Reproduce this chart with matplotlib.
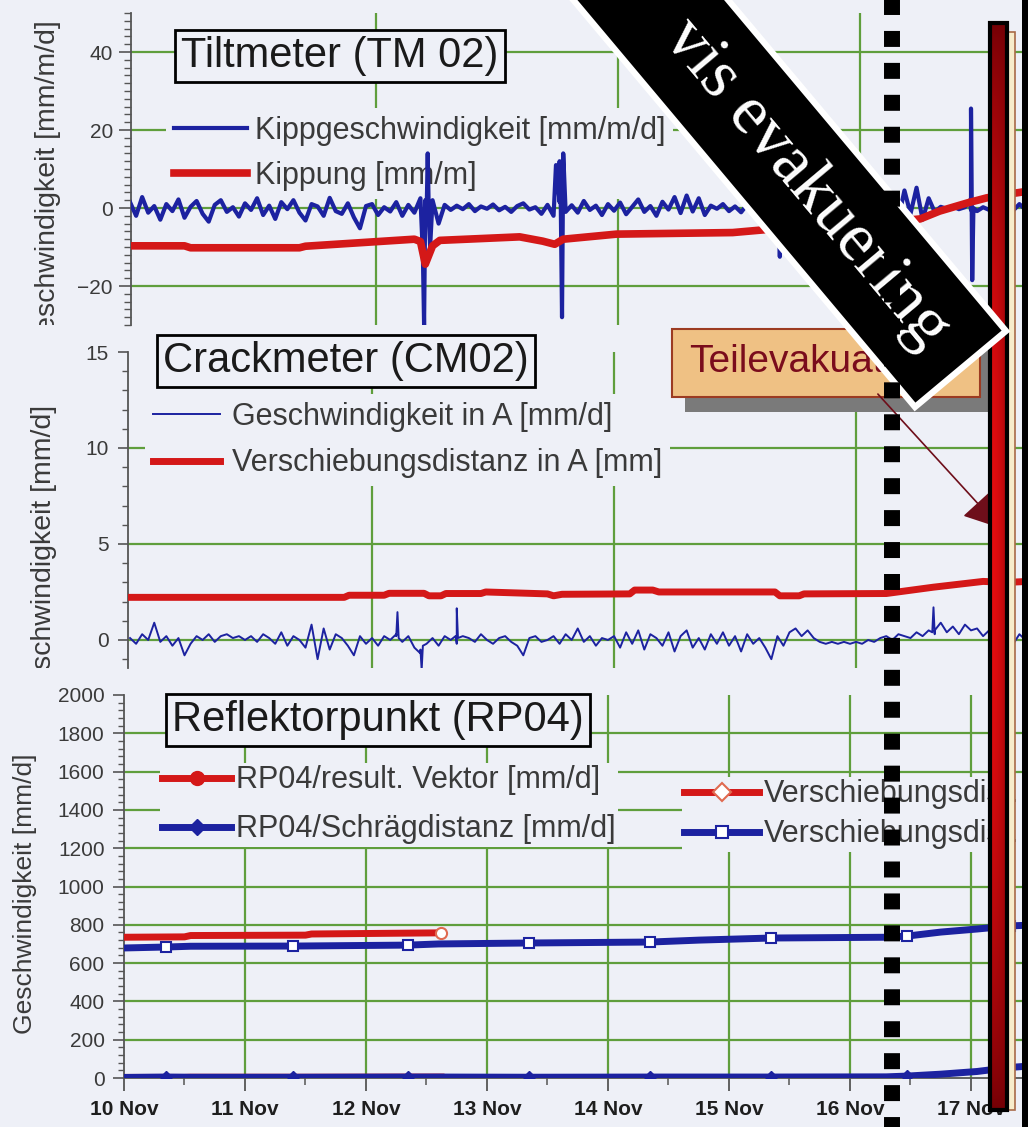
import numpy as np
import matplotlib
matplotlib.use("Agg")
import matplotlib.pyplot as plt
from matplotlib.lines import Line2D
from matplotlib.patches import Rectangle, Polygon, FancyArrowPatch
from matplotlib.ticker import MultipleLocator
from matplotlib.transforms import Bbox, TransformedBbox

plt.rcParams['font.family'] = ['Liberation Sans', 'DejaVu Sans']

# --- data: time in days after 10 Nov ---
# tiltmeter rate [mm/m/d], one value every 0.05 d
tilt_rate = [
    1.5, -2.0, 2.8, -1.2, 0.5, -3.0, 1.0, -0.8, 2.2, -2.5, 0.3, 1.8, -1.5, -3.5, 0.8, 2.0, -1.0, 0.2, -2.2, 1.2,
    -0.5, 2.5, -1.8, 0.6, -2.8, 1.5, -0.3, 2.0, -1.2, -3.2, 1.0, 0.4, -2.0, 2.6, -0.8, -1.5, 1.2, -2.4, -5.2, 0.5,
    1.0, -1.8, 0.2, -0.9, 1.5, -2.0, 0.8, -1.2, 2.5, -3.0, 2.0, -4.0, 0.8, -0.5, 0.6, -0.3, 1.0, -0.8, 0.4, -0.2,
    0.9, -0.6, 0.3, -1.0, 0.5, 1.2, -0.4, 0.2, -1.5, 0.8, -2.0, 1.5, -1.0, 0.7, -1.2, 1.8, -0.5, 0.6, -1.8, 1.0,
    -0.7, 1.4, -1.6, 0.3, 2.2, -1.0, 0.5, -2.0, 1.6, -0.4, 2.8, -1.3, 3.2, -0.9, 2.5, -1.8, 0.6, -0.2, 1.0, -0.8,
    0.4, -1.1, 0.9, -0.3, 1.3, -0.6, 0.2, -1.5, 0.7, -0.4, 1.1, -1.2, 0.5, -0.8, 1.4, -0.5, 0.8, -1.3, 0.6, -0.2,
    1.0, -1.5, 0.8, -0.4, 1.6, -2.2, 3.0, -2.8, 4.5, -1.5, 5.2, -3.0, 2.5, -1.0, 0.3, -0.2, 0.4, -0.3, 0.2, -0.5,
    -0.8, 0.2, -0.5, 0.4, -1.0, 0.3, -0.6, 1.0, -0.4,
]
tilt_spike_t = [2.47, 2.48, 2.49, 2.51, 2.52, 2.53, 3.57, 3.60, 3.61, 3.62, 3.63, 5.41, 5.42, 5.43, 6.99, 7.00, 7.01, 7.02]
tilt_spike = [-12.0, -30.0, 2.0, 14.0, -3.0, -10.0, 11.0, 12.0, 0.0, -28.0, 14.0, 1.0, -12.5, 1.5, 2.0, 25.5, -18.5, 0.0]

# tiltmeter tilt [mm/m]
tilt_t = [0.06, 0.50, 0.55, 1.45, 1.50, 1.95, 2.40, 2.45, 2.49, 2.55, 2.61, 3.27, 3.46, 3.56, 3.63,
          4.07, 5.03, 5.36, 5.83, 6.25, 6.58, 6.74, 6.97, 7.13, 7.36, 7.47]
tilt = [-9.7, -9.7, -10.2, -10.2, -9.8, -8.9, -8.0, -8.6, -14.4, -9.7, -8.3, -7.4, -8.5, -9.3, -8.0,
        -6.7, -6.3, -5.4, -4.6, -3.8, -2.8, -0.8, 1.3, 2.6, 3.8, 4.3]

# crackmeter rate [mm/d], one value every 0.05 d
crack_rate = [
    0.1, -0.2, 0.3, 0.0, 0.9, -0.1, 0.2, -0.3, 0.1, -0.8, -0.2, 0.2, 0.0, 0.3, -0.1, 0.2, 0.3, 0.1, 0.2, 0.0,
    0.2, -0.1, 0.3, 0.1, -0.2, 0.4, -0.3, 0.2, 0.0, -0.4, 0.8, -1.0, 0.6, -0.5, 0.3, 0.1, -0.3, -0.8, 0.2, -0.2,
    0.1, -0.3, 0.2, 0.0, 0.3, -0.1, 0.2, -0.4, -0.7, -0.2, 0.1, -0.3, 0.2, 0.0, -0.2, 0.2, 0.1, -0.1, 0.3, 0.0,
    -0.2, 0.1, 0.2, -0.1, -0.3, -0.8, 0.1, 0.2, -0.1, 0.0, 0.2, -0.2, 0.3, 0.0, 0.6, -0.1, 0.2, -0.3, 0.1, 0.0,
    0.2, -0.4, 0.4, -0.2, 0.5, -0.5, 0.3, 0.1, -0.3, 0.4, -0.6, 0.2, 0.5, -0.4, 0.1, -0.5, 0.3, -0.2, 0.4, -0.3,
    0.2, -0.6, 0.3, -0.2, 0.1, -0.4, -1.0, 0.2, -0.3, 0.4, 0.6, 0.2, 0.5, 0.1, -0.1, -0.2, -0.1, -0.2, -0.1, -0.2,
    -0.1, -0.2, 0.0, -0.1, 0.1, 0.2, 0.0, 0.3, 0.2, 0.1, 0.4, 0.2, 0.5, 0.3, 0.9, 0.4, 0.7, 0.3, 0.8, 0.5,
    0.6, 0.2, 0.5, 0.3, 0.1, 0.4, -0.2, 0.3, 0.0,
]
crack_spike_t = [2.25, 2.26, 2.27, 2.45, 2.46, 2.47, 2.74, 2.75, 2.76, 6.68, 6.69, 6.70]
crack_spike = [0.2, 1.45, 0.1, -0.5, -1.55, -0.3, 0.2, 1.65, 0.1, 0.4, 1.7, 0.5]

# crackmeter displacement [mm]
crack_t = [0.03, 1.82, 1.86, 2.15, 2.19, 2.48, 2.52, 2.62, 2.66, 2.95, 2.99, 3.50, 3.55, 3.62, 4.18,
           4.22, 4.37, 4.42, 5.38, 5.42, 5.58, 5.62, 6.30, 6.69, 7.10, 7.30, 7.47]
crack = [2.22, 2.22, 2.33, 2.33, 2.43, 2.43, 2.30, 2.30, 2.42, 2.42, 2.50, 2.40, 2.30, 2.38, 2.40,
         2.60, 2.60, 2.50, 2.50, 2.30, 2.30, 2.40, 2.42, 2.75, 3.05, 3.00, 3.05]

# reflector point RP04
rp_res_t = [0.00, 0.50, 0.55, 1.50, 1.55, 2.62]
rp_res_disp = [735, 737, 744, 746, 752, 758]
rp_res_vel = [3, 3, 4, 4, 4, 5]
rp_slope_t = [0.00, 0.35, 0.55, 1.40, 2.35, 2.60, 3.35, 4.35, 4.75, 5.35, 6.30, 6.47, 6.75, 7.05, 7.32, 7.47]
rp_slope_disp = [679, 684, 688, 689, 694, 700, 705, 710, 720, 731, 735, 741, 762, 778, 794, 798]
rp_slope_vel = [3, 5, 4, 4, 5, 5, 4, 5, 5, 5, 6, 10, 20, 34, 55, 62]
rp_marks = [1, 3, 4, 6, 7, 9, 11, 14]

day_ticks = [10, 11, 12, 13, 14, 15, 16, 17]
day_labels = ["10 Nov", "11 Nov", "12 Nov", "13 Nov", "14 Nov", "15 Nov", "16 Nov", "17 Nov"]

# --- look ---
W, H = 1028, 1127
BG = '#eef0f7'
GRID = '#5f9e3c'
BLUE = '#1c22a0'
RED = '#d41818'
TXT = '#3a3a3a'
AX = '#555555'


def fx(x):
    return x / W


def fy(y):
    return 1 - y / H


def day_at(px):
    return 10 + (px - 124) / 121


def with_spikes(base, t_sp, v_sp):
    t = 10 + 0.05 * np.arange(1, len(base) + 1)
    tt = np.concatenate([t, 10 + np.array(t_sp)])
    vv = np.concatenate([np.array(base), np.array(v_sp)])
    order = np.argsort(tt, kind='stable')
    return tt[order], vv[order]


def panel(left, top, bottom):
    ax = fig.add_axes([fx(left), fy(bottom), fx(W) - fx(left), (bottom - top) / H])
    ax.set_facecolor('none')
    ax.set_xlim(day_at(left), day_at(W))
    for s in ['top', 'right', 'bottom']:
        ax.spines[s].set_visible(False)
    ax.spines['left'].set_color(AX)
    ax.spines['left'].set_linewidth(1.3)
    ax.tick_params(axis='y', which='both', colors=AX, labelcolor=TXT, labelsize=15)
    return ax


def legend(ax, handles, x, y, **kw):
    lg = ax.legend(handles=handles, loc='upper left', bbox_to_anchor=(fx(x), fy(y)),
                   bbox_transform=fig.transFigure, fontsize=22, frameon=True, facecolor=BG,
                   edgecolor='none', framealpha=1, fancybox=False, borderaxespad=0,
                   labelcolor=TXT, **kw)
    return lg


def ylabel(text, x, top, clip_bottom, size):
    t = fig.text(fx(x), fy(top), text, rotation=90, rotation_mode='anchor', ha='right',
                 va='center', fontsize=size, color=TXT)
    t.set_clip_box(TransformedBbox(Bbox.from_extents(0, fy(clip_bottom), 1, 1), fig.transFigure))
    t.set_clip_on(True)


fig = plt.figure(figsize=(W / 100, H / 100), dpi=100, facecolor=BG)

# --- Tiltmeter ---
ax1 = panel(131, 13, 325)
ax1.set_ylim(-30, 50)
ax1.set_yticks([-20, 0, 20, 40])
ax1.yaxis.set_minor_locator(MultipleLocator(2))
ax1.tick_params(axis='y', which='major', length=9, width=1.2, pad=4)
ax1.tick_params(axis='y', which='minor', length=5, width=1)
ax1.set_xticks([])
for v in [-20, 0, 20, 40]:
    ax1.axhline(v, color=GRID, lw=1.6, zorder=0.5)
for d in [12.08, 14.08, 16.08]:
    ax1.axvline(d, color=GRID, lw=1.6, zorder=0.5)
t, v = with_spikes(tilt_rate, tilt_spike_t, tilt_spike)
l1, = ax1.plot(t, v, color=BLUE, lw=3.0, zorder=6, label='Kippgeschwindigkeit [mm/m/d]')
l2, = ax1.plot(10 + np.array(tilt_t), tilt, color=RED, lw=5.5, zorder=7, label='Kippung [mm/m]')
legend(ax1, [l1, l2], 166, 108, borderpad=0.25, handlelength=2.4, handletextpad=0.25, labelspacing=0.5)
ylabel('Geschwindigkeit [mm/m/d]', 48, 20, 325, 20.5)

# --- Crackmeter ---
ax2 = panel(128, 352, 668)
ax2.set_ylim(-1.46, 15)
ax2.set_yticks([0, 5, 10, 15])
ax2.yaxis.set_minor_locator(MultipleLocator(1))
ax2.tick_params(axis='y', which='major', length=7, width=1.2, pad=7)
ax2.tick_params(axis='y', which='minor', length=4, width=1)
ax2.set_xticks([])
for v in [0, 5, 10]:
    ax2.axhline(v, color=GRID, lw=1.6, zorder=0.5)
for d in [12.05, 14.05, 16.05]:
    ax2.axvline(d, color=GRID, lw=1.6, zorder=0.5)
t, v = with_spikes(crack_rate, crack_spike_t, crack_spike)
l3, = ax2.plot(t, v, color=BLUE, lw=1.4, zorder=6, label='Geschwindigkeit in A [mm/d]')
l4, = ax2.plot(10 + np.array(crack_t), crack, color=RED, lw=5, zorder=7, label='Verschiebungsdistanz in A [mm]')
legend(ax2, [l3, l4], 145, 394, borderpad=0.25, handlelength=2.2, handletextpad=0.4, labelspacing=0.55)
ylabel('Geschwindigkeit [mm/d]', 44, 405, 668, 20.5)

# --- Reflektorpunkt ---
ax3 = panel(124, 695, 1078)
ax3.set_ylim(0, 2000)
ax3.set_yticks(range(0, 2001, 200))
ax3.yaxis.set_minor_locator(MultipleLocator(40))
ax3.tick_params(axis='y', which='major', length=8, width=1.2, pad=6)
ax3.tick_params(axis='y', which='minor', length=4, width=1)
ax3.spines['bottom'].set_visible(True)
ax3.spines['bottom'].set_color(AX)
ax3.spines['bottom'].set_linewidth(1.3)
ax3.set_xticks(day_ticks)
ax3.set_xticklabels(day_labels, fontsize=15, fontweight='bold', color='#1e1e1e')
ax3.xaxis.set_minor_locator(MultipleLocator(0.5))
ax3.tick_params(axis='x', which='major', length=9, width=1.3, pad=7, colors=AX, labelcolor='#1e1e1e')
ax3.tick_params(axis='x', which='minor', length=5, width=1.1, colors=AX)
for v in range(200, 2000, 200):
    ax3.axhline(v, color=GRID, lw=1.6, zorder=0.5)
for d in day_ticks[1:]:
    ax3.axvline(d, color=GRID, lw=1.6, zorder=0.5)

rt = 10 + np.array(rp_res_t)
st = 10 + np.array(rp_slope_t)
ax3.plot(rt, rp_res_vel, color=RED, lw=5, zorder=6)
ax3.plot(st, rp_slope_vel, color=BLUE, lw=5, marker='D', ms=6, markevery=rp_marks, zorder=7)
ax3.plot(rt, rp_res_disp, color=RED, lw=5, zorder=6, marker='o', ms=8, mfc='white',
         mec='#e06a50', mew=1.5, markevery=[len(rp_res_t) - 1])
ax3.plot(st, rp_slope_disp, color=BLUE, lw=5, zorder=7, marker='s', ms=7, mfc='white',
         mec=BLUE, mew=1.5, markevery=rp_marks)

h_res_v = Line2D([], [], color=RED, lw=5, marker='o', ms=10, label='RP04/result. Vektor [mm/d]')
h_slo_v = Line2D([], [], color=BLUE, lw=5, marker='D', ms=8, label='RP04/Schrägdistanz [mm/d]')
h_res_d = Line2D([], [], color=RED, lw=5, marker='D', ms=9, mfc='white', mec='#e06a50', mew=1.5,
                 label='Verschiebungsdist.')
h_slo_d = Line2D([], [], color=BLUE, lw=5, marker='s', ms=8, mfc='white', mec=BLUE, mew=1.5,
                 label='Verschiebungsdist.')
lg = legend(ax3, [h_res_v, h_slo_v], 160, 763, borderpad=0.08, handlelength=2.25,
            handletextpad=0.15, labelspacing=0.62)
ax3.add_artist(lg)
legend(ax3, [h_res_d, h_slo_d], 682, 777, borderpad=0.08, handlelength=2.45,
       handletextpad=0.15, labelspacing=0.32)
ylabel('Geschwindigkeit [mm/d]', 25, 753, H, 19)

# --- panel titles ---
box = dict(boxstyle='square,pad=0.15', fc=BG, ec='black', lw=2)
fig.text(fx(340), fy(56), 'Tiltmeter (TM 02)', fontsize=30, ha='center', va='center', color='#1a1a1a', bbox=box)
fig.text(fx(346), fy(361), 'Crackmeter (CM02)', fontsize=30, ha='center', va='center', color='#1a1a1a', bbox=box)
fig.text(fx(378), fy(720), 'Reflektorpunkt (RP04)', fontsize=30, ha='center', va='center', color='#1a1a1a', bbox=box)

# --- Teilevakuation note ---
fig.add_artist(Rectangle((fx(685), fy(412)), fx(993) - fx(685), (412 - 340) / H,
                         transform=fig.transFigure, fc='#7a7a7a', ec='none', zorder=1))
fig.add_artist(Rectangle((fx(672), fy(397)), fx(980) - fx(672), (397 - 329) / H,
                         transform=fig.transFigure, fc='#efc184', ec='#9c3b22', lw=1.5, zorder=1.1))
fig.text(fx(689), fy(362), 'Teilevakuation', fontsize=28, ha='left', va='center', color='#7a0c1c', zorder=1.2)
fig.add_artist(FancyArrowPatch((fx(876), fy(392)), (fx(1002), fy(530)), transform=fig.transFigure,
                               arrowstyle='-|>,head_length=0.8,head_width=0.45', mutation_scale=28,
                               color='#6e0e1a', lw=1.2, zorder=2))

# --- red event bar ---
fig.add_artist(Rectangle((fx(1005), fy(1110)), fx(1015) - fx(1005), (1110 - 32) / H,
                         transform=fig.transFigure, fc='#f7eccb', ec='#a86a48', lw=1.2, zorder=3.5))
bar = fig.add_axes([fx(990), fy(1110), fx(1007) - fx(990), (1110 - 23) / H], zorder=4)
vert = np.sin(np.linspace(0, np.pi, 300)) ** 0.7
horiz = 1 - 0.5 * np.linspace(0, 1, 20) ** 2
k = (vert[:, None] * horiz[None, :])[..., None]
dark = np.array([0.45, 0.0, 0.02])
bright = np.array([0.90, 0.05, 0.06])
bar.imshow(dark + (bright - dark) * k, aspect='auto', extent=(0, 1, 0, 1))
bar.add_patch(Rectangle((0, 0), 1, 1, transform=bar.transAxes, fill=False, ec='black', lw=3, clip_on=False))
bar.set_axis_off()

# --- banner ---
ax_u = np.array([0.643, 0.766])
corner_a = np.array([915, 407])
corner_b = np.array([1006, 331])
pts = [corner_a, corner_b, corner_b - 900 * ax_u, corner_a - 900 * ax_u]
fig.add_artist(Polygon([(fx(p[0]), fy(p[1])) for p in pts], closed=True, transform=fig.transFigure,
                       fc='black', ec='white', lw=4.5, joinstyle='miter', zorder=5))
fig.text(fx(806), fy(184), 'vis evakuering', rotation=-50, rotation_mode='anchor', ha='center',
         va='center', fontsize=50, family='Liberation Serif', color='white', zorder=6)

# --- dotted marker line and right border ---
fig.add_artist(Line2D([fx(892), fx(892)], [fy(-8.2), fy(1160)], transform=fig.transFigure,
                      color='black', lw=11.5, linestyle=(0, (1, 1)), dash_capstyle='butt', zorder=7))
fig.add_artist(Rectangle((fx(1022), 0), fx(1030) - fx(1022), 1, transform=fig.transFigure,
                         fc='black', ec='none', zorder=8))

fig.savefig('out.png', dpi=100, facecolor=BG)
